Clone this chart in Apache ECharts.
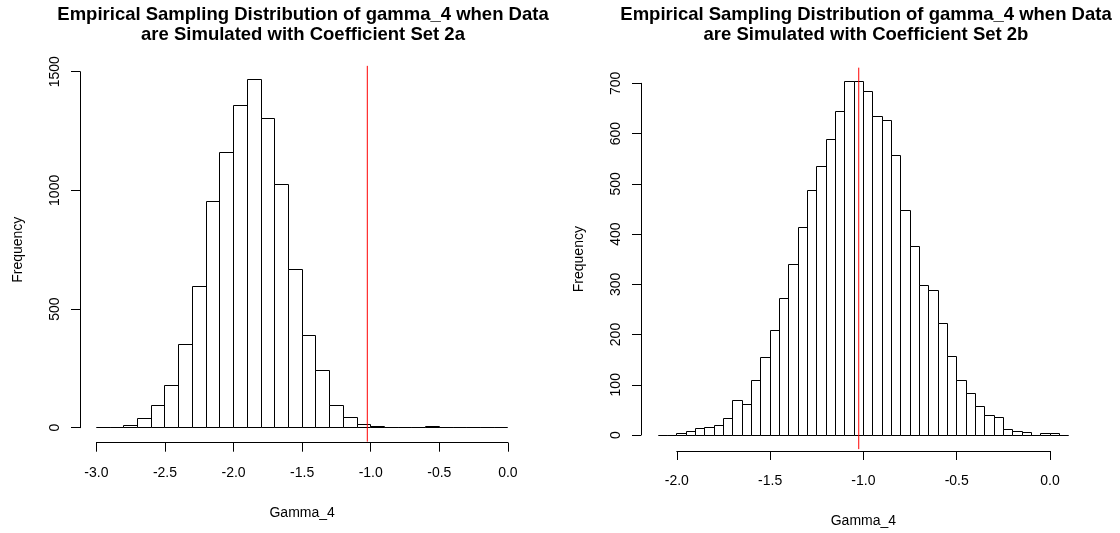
<!DOCTYPE html>
<html>
<head>
<meta charset="utf-8">
<title>Empirical Sampling Distribution of gamma_4</title>
<script src="https://cdn.jsdelivr.net/npm/echarts@6/dist/echarts.min.js"></script>
<style>
  html, body { margin: 0; padding: 0; background: #fff; }
  #chart { width: 1120px; height: 533px; }
</style>
</head>
<body>
<div id="chart"></div>
<script>
// ---- Data: histogram counts of simulated gamma_4 estimates ----
// Set 2a: bins of width 0.1 starting at -3.0
const countsA = [0, 0, 8, 40, 93, 176, 351, 597, 952, 1160, 1356, 1466, 1303, 1025, 667,
                 389, 242, 94, 42, 14, 5, 0, 0, 0, 4, 0, 0, 0, 0, 0];
const binStartA = -3.0;
const binWidthA = 0.1;

// Set 2b: bins of width 0.05 starting at -2.1
const countsB = [0, 0, 3, 7, 12, 15, 18, 32, 68, 61, 108, 154, 208, 271, 339, 412, 486, 535,
                 589, 644, 703, 703, 683, 633, 626, 557, 447, 375, 298, 288, 222, 156, 108,
                 83, 57, 39, 34, 10, 6, 4, 0, 2, 2, 0];
const binStartB = -2.1;
const binWidthB = 0.05;

// True coefficient value marked in red
const trueGamma4 = -1.025;

// Axis tick ranges
const xTicksA = { min: -3.0, max: 0.0, step: 0.5 };
const yTicksA = { min: 0, max: 1500, step: 500 };
const xTicksB = { min: -2.0, max: 0.0, step: 0.5 };
const yTicksB = { min: 0, max: 700, step: 100 };

const titleLine1 = 'Empirical Sampling Distribution of gamma_4 when Data';
const titleLine2A = 'are Simulated with Coefficient Set 2a';
const titleLine2B = 'are Simulated with Coefficient Set 2b';
const xName = 'Gamma_4';
const yName = 'Frequency';

// ---- Build bins [lo, hi, count] ----
function makeBins(start, width, counts) {
  return counts.map((c, i) => {
    const lo = +(start + i * width).toFixed(4);
    const hi = +(start + (i + 1) * width).toFixed(4);
    return [lo, hi, c];
  });
}
const binsA = makeBins(binStartA, binWidthA, countsA);
const binsB = makeBins(binStartB, binWidthB, countsB);

const FONT = "'Liberation Sans', Arial, sans-serif";
const INK = '#000';

function crisp(v) { return Math.round(v - 0.5) + 0.5; }

function histRender(params, api) {
  const lo = api.value(0), hi = api.value(1), c = api.value(2);
  const p0 = api.coord([lo, 0]);
  const p1 = api.coord([hi, c]);
  const x0 = crisp(p0[0]), x1 = crisp(p1[0]);
  const y0 = crisp(p0[1]), y1 = crisp(p1[1]);
  return {
    type: 'rect',
    shape: { x: x0, y: y1, width: x1 - x0, height: y0 - y1 },
    style: { fill: '#fff', stroke: INK, lineWidth: 1 }
  };
}

function xAxisCfg(gi, t, offset) {
  return {
    gridIndex: gi, type: 'value', min: t.min, max: t.max, interval: t.step,
    position: 'bottom', offset: offset,
    axisLine: { show: true, onZero: false, lineStyle: { color: INK, width: 1 } },
    axisTick: { show: true, length: 9, lineStyle: { color: INK } },
    axisLabel: { fontFamily: FONT, fontSize: 14, color: INK, margin: 23,
                 formatter: v => v.toFixed(1) },
    splitLine: { show: false },
    name: xName, nameLocation: 'middle', nameGap: 63,
    nameTextStyle: { fontFamily: FONT, fontSize: 14, color: INK }
  };
}

function yAxisCfg(gi, t, offset) {
  return {
    gridIndex: gi, type: 'value', min: t.min, max: t.max, interval: t.step,
    position: 'left', offset: offset,
    axisLine: { show: true, onZero: false, lineStyle: { color: INK, width: 1 } },
    axisTick: { show: true, length: 9, lineStyle: { color: INK } },
    axisLabel: { fontFamily: FONT, fontSize: 14, color: INK, margin: 18, rotate: 90,
                 formatter: v => String(v) },
    splitLine: { show: false },
    name: yName, nameLocation: 'middle', nameGap: 55, nameRotate: 90,
    nameTextStyle: { fontFamily: FONT, fontSize: 14, color: INK }
  };
}

// Vertical reference line spanning the full plot region (R-style 4% padding)
function refLine(gi, counts) {
  const m = Math.max(...counts);
  return {
    type: 'line', xAxisIndex: gi, yAxisIndex: gi, clip: false, silent: true,
    symbol: 'none', z: 5, animation: false,
    lineStyle: { color: '#ff0000', width: 1 },
    data: [[trueGamma4, -0.04 * m], [trueGamma4, 1.04 * m]]
  };
}

function titleCfg(cx, line2) {
  return {
    text: titleLine1 + '\n' + line2,
    left: cx, top: 0, textAlign: 'center',
    textStyle: { fontFamily: FONT, fontSize: 18.5, fontWeight: 'bold', color: INK, lineHeight: 20 }
  };
}

const chart = echarts.init(document.getElementById('chart'), null, { renderer: 'canvas' });
chart.setOption({
  animation: false,
  backgroundColor: '#fff',
  title: [titleCfg(298, titleLine2A), titleCfg(861, titleLine2B)],
  grid: [
    { left: 96.4, top: 71.7, width: 411.5, height: 356 },
    { left: 676.8, top: 83.3, width: 373.2, height: 355 }
  ],
  xAxis: [xAxisCfg(0, xTicksA, 15), xAxisCfg(1, xTicksB, 16)],
  yAxis: [yAxisCfg(0, yTicksA, 16.4), yAxisCfg(1, yTicksB, 35.8)],
  series: [
    { type: 'custom', xAxisIndex: 0, yAxisIndex: 0, renderItem: histRender,
      encode: { x: [0, 1], y: 2 }, data: binsA, clip: false, silent: true },
    { type: 'custom', xAxisIndex: 1, yAxisIndex: 1, renderItem: histRender,
      encode: { x: [0, 1], y: 2 }, data: binsB, clip: false, silent: true },
    refLine(0, countsA),
    refLine(1, countsB)
  ]
});
</script>
</body>
</html>
